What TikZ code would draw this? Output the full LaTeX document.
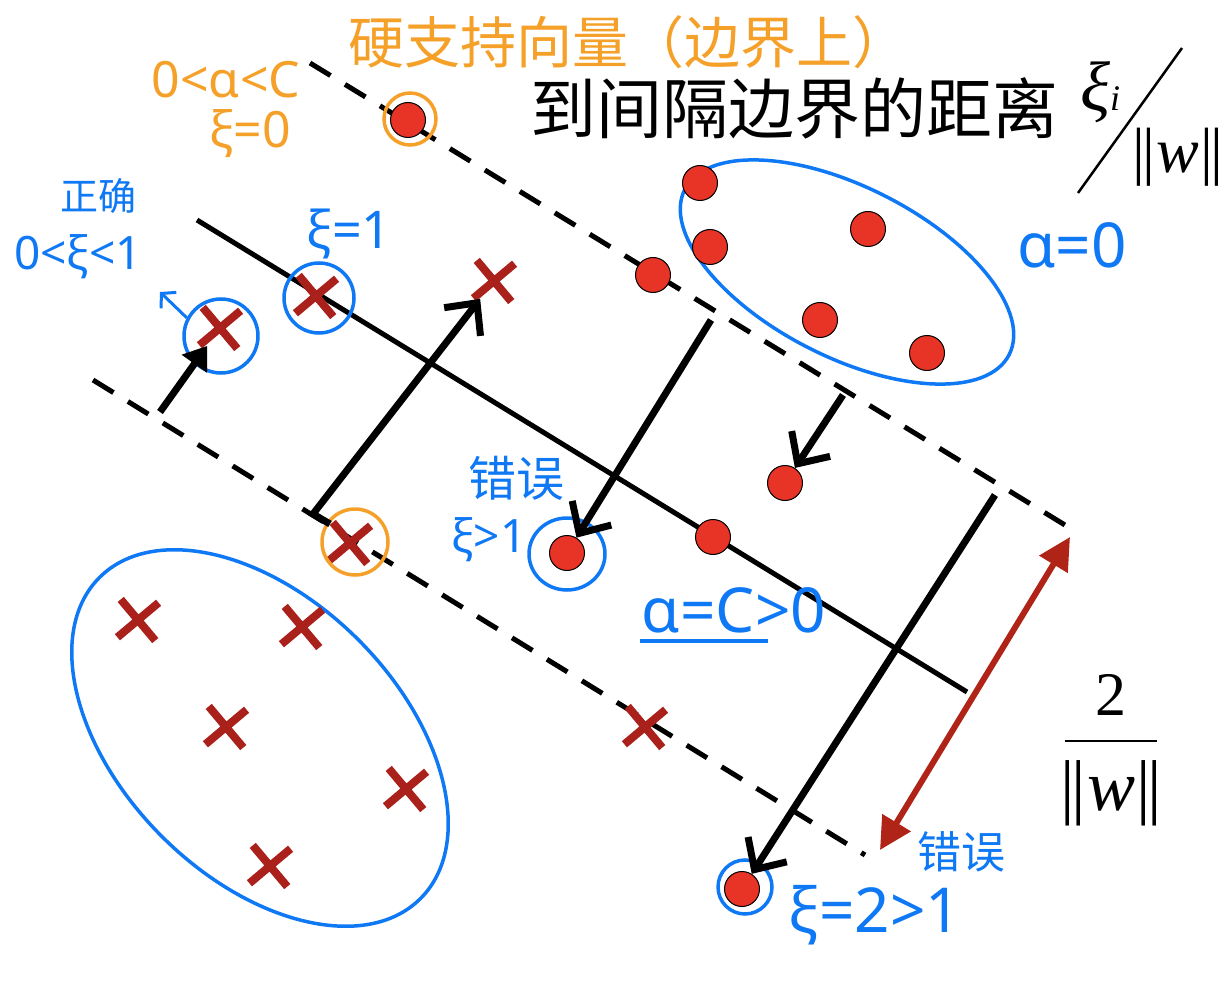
\documentclass[tikz,border=0pt]{standalone}
\usepackage{fontspec}
\newfontfamily\cjk{Noto Sans CJK SC}
\newfontfamily\hw{Noto Sans}
\newfontfamily\tms{Liberation Serif}
\usetikzlibrary{arrows.meta,shapes.misc,shapes.geometric}
\definecolor{hwOrange}{RGB}{245,160,40}
\definecolor{hwBlue}{RGB}{15,120,245}
\definecolor{dotRed}{RGB}{232,52,38}
\definecolor{xRed}{RGB}{170,32,26}
\definecolor{arrRed}{RGB}{176,36,24}
\newcommand{\nrmw}{|\kern-0.05em|\kern0.02em\textit{w}\kern0.02em|\kern-0.05em|}
\tikzset{
  dotnode/.style={circle, fill=dotRed, draw=black, line width=1pt, minimum size=35pt, inner sep=0pt},
  xnode/.style={cross out, draw=xRed, line width=8pt, minimum size=30pt, inner sep=0pt, rotate=-5},
  bring/.style={circle, draw=hwBlue, line width=3.5pt, inner sep=0pt},
  oring/.style={circle, draw=hwOrange, line width=3.5pt, inner sep=0pt},
  margin/.style={draw=black, line width=5pt, dash pattern=on 24pt off 17pt},
  hyper/.style={draw=black, line width=5pt},
  bigarrow/.style={draw=black, line width=7pt, -{Straight Barb[length=24pt,width=46pt,line width=7pt]}},
  bluetxt/.style={text=hwBlue, inner sep=0pt},
  orangetxt/.style={text=hwOrange, inner sep=0pt},
  blacktxt/.style={text=black, inner sep=0pt},
}
\begin{document}
\begin{tikzpicture}[x=1pt,y=-1pt]
\useasboundingbox[fill=white] (0,0) rectangle (1223,1000);

% blue group ellipses
\draw[hwBlue, line width=3.5pt] (847,272) ellipse [x radius=182pt, y radius=85pt, rotate=-27];
\draw[hwBlue, line width=3.5pt] (260,738) ellipse [x radius=227pt, y radius=139pt, rotate=-45];

% hyperplane and margins
\coordinate (ua) at (310,63);  \coordinate (ub) at (1078,533);
\coordinate (ca) at (197,220); \coordinate (cb) at (967,692);
\coordinate (la) at (93,380);  \coordinate (lb) at (865,855);
\draw[margin] (ua) -- (ub);
\draw[hyper] (ca) -- (cb);
\draw[margin] (la) -- (lb);

% red dots
\node[dotnode] (d1) at (408,120) {};
\node[dotnode] (d2) at (700,183) {};
\node[dotnode] (d3) at (710,247) {};
\node[dotnode] (d4) at (868,229) {};
\node[dotnode] (d5) at (653,275) {};
\node[dotnode] (d6) at (820,320) {};
\node[dotnode] (d7) at (927,353) {};
\node[dotnode] (d8) at (785,483) {};
\node[dotnode] (d9) at (713,537) {};
\node[dotnode] (d10) at (567,553) {};
\node[dotnode] (d11) at (742,889) {};

% crosses
\node[xnode] (x1) at (220,328) {};
\node[xnode] (x2) at (316,296) {};
\node[xnode] (x3) at (494,281) {};
\node[xnode] (x4) at (350,543) {};
\node[xnode] (x5) at (138,620) {};
\node[xnode] (x6) at (302,627) {};
\node[xnode] (x7) at (226,727) {};
\node[xnode] (x8) at (406,789) {};
\node[xnode] (x9) at (270,866) {};
\node[xnode] (x10) at (645,727) {};

% rings
\node[bring, minimum size=74pt] (r1) at (221,336) {};
\node[bring, minimum size=70pt] (r2) at (319,298) {};
\node[oring, minimum size=66pt] (r3) at (355,542) {};
\node[bring, ellipse, minimum width=76pt, minimum height=72pt] (r4) at (567,554) {};
\node[bring, minimum size=54pt] (r5) at (745,887) {};
\node[oring, minimum size=52pt] (r6) at (410,119) {};

% slack arrows
\coordinate (s1) at (160,412);
\draw[draw=black, line width=7pt, -{Triangle[length=22pt,width=30pt]}] (s1) -- (x1);
\coordinate (s2a) at (330,524);
\coordinate (s2) at (313,514);
\draw[bigarrow] (s2a) -- (s2) -- (x3);
\coordinate (s3) at (711,320);
\draw[bigarrow] (s3) -- (d10);
\coordinate (s4) at (843,395);
\draw[bigarrow] (s4) -- (d8);
\coordinate (s5) at (995,495);
\draw[bigarrow] (s5) -- (d11);

% margin width arrow
\coordinate (m1) at (1070,537);
\coordinate (m2) at (880,850);
\draw[draw=arrRed, line width=6pt, {Triangle[length=32pt,width=32pt]}-{Triangle[length=32pt,width=32pt]}] (m2) -- (m1);

% small blue arrow
\coordinate (b2) at (160,292);
\draw[hwBlue, line width=3pt, -{Straight Barb[length=10pt,width=22pt,line width=3pt]}] (r1.152) -- (b2);

% orange annotations
\node[orangetxt, font=\hw\fontsize{50}{50}\selectfont] (t1) at (226,80) {0<α<C};
\node[orangetxt, font=\hw\fontsize{50}{50}\selectfont] (t2) at (250,134) {ξ=0};
\node[orangetxt, font=\cjk\fontsize{56}{56}\selectfont] (t3) at (628,42) {硬支持向量（边界上）};

% black title
\node[blacktxt, font=\cjk\fontsize{66}{66}\selectfont] (t4) at (794,108) {到间隔边界的距离};
\node[blacktxt, font=\tms\fontsize{70}{70}\selectfont] (xi) at (1100,92) {\textit{ξ}{\fontsize{36}{36}\selectfont\textit{i}}};
\coordinate (sl1) at (1078,193);
\coordinate (sl2) at (1182,48);
\draw[black, line width=2.5pt] (sl1) -- (sl2);
\node[blacktxt, font=\tms\fontsize{64}{64}\selectfont] (nw1) at (1178,157) {\nrmw};

% fraction 2/||w||
\node[blacktxt, font=\tms\fontsize{62}{62}\selectfont] (two) at (1111,695) {2};
\coordinate (fb1) at (1065,741);
\coordinate (fb2) at (1157,741);
\draw[black, line width=2.5pt] (fb1) -- (fb2);
\node[blacktxt, font=\tms\fontsize{72}{72}\selectfont] (nw2) at (1111,793) {\nrmw};

% blue annotations
\node[bluetxt, font=\hw\fontsize{62}{62}\selectfont] (t5) at (1072,245) {α=0};
\node[bluetxt, font=\cjk\fontsize{38}{38}\selectfont] (t6) at (98,196) {正确};
\node[bluetxt, font=\hw\fontsize{46}{46}\selectfont] (t7) at (78,257) {0<ξ<1};
\node[bluetxt, font=\hw\fontsize{52}{52}\selectfont] (t8) at (349,234) {ξ=1};
\node[bluetxt, font=\cjk\fontsize{48}{48}\selectfont] (t9) at (516,478) {错误};
\node[bluetxt, font=\hw\fontsize{46}{46}\selectfont] (t10) at (489,540) {ξ>1};
\node[bluetxt, font=\hw\fontsize{62}{62}\selectfont] (t11) at (734,610) {α=C>0};
\coordinate (ul1) at (640,641);
\coordinate (ul2) at (768,641);
\draw[hwBlue, line width=3.5pt] (ul1) -- (ul2);
\node[bluetxt, font=\cjk\fontsize{44}{44}\selectfont] (t12) at (961,852) {错误};
\node[bluetxt, font=\hw\fontsize{62}{62}\selectfont] (t13) at (875,915) {ξ=2>1};
\end{tikzpicture}
\end{document}
